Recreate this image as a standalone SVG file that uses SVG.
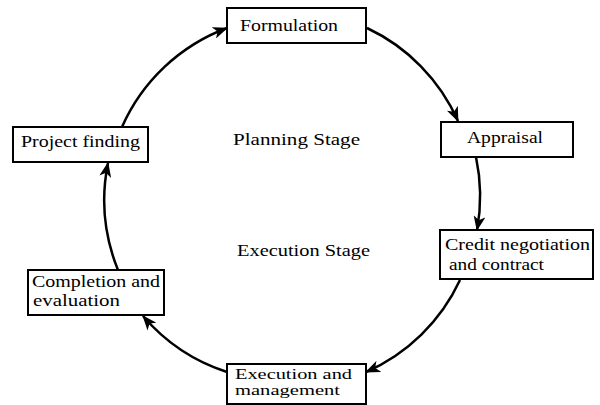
<svg xmlns="http://www.w3.org/2000/svg" width="600" height="405" viewBox="0 0 600 405">
<style>
.box{fill:#fff;stroke:#000;stroke-width:2}
.t{font-family:"Liberation Serif","Times New Roman",serif;font-size:17px;fill:#000}
.s{font-size:15px}
.c{fill:none;stroke:#000;stroke-width:2.5;marker-end:url(#ah)}
</style>
<defs>
<marker id="ah" markerUnits="userSpaceOnUse" markerWidth="16" markerHeight="12" refX="14" refY="6" orient="auto">
<path d="M0,0 L15,6 L0,12 L4,6 Z" fill="#000"/>
</marker>
</defs>
<rect width="600" height="405" fill="#fff"/>
<g id="connectors">
<path class="c" d="M367,28 A186,186 0 0 1 458,121"/>
<path class="c" d="M476,157 A186,186 0 0 1 477,230"/>
<path class="c" d="M460,280 A186,186 0 0 1 366,372"/>
<path class="c" d="M227,372 A186,186 0 0 1 143,316"/>
<path class="c" d="M118,270 A186,186 0 0 1 108,163"/>
<path class="c" d="M122,127 A186,186 0 0 1 227,28"/>
</g>
<g id="formulation">
<rect class="box" x="227" y="8" width="139" height="35"/>
<text class="t" x="240" y="31" textLength="98" lengthAdjust="spacingAndGlyphs">Formulation</text>
</g>
<g id="appraisal">
<rect class="box" x="441" y="122" width="132" height="35"/>
<text class="t" x="467" y="143" textLength="76" lengthAdjust="spacingAndGlyphs">Appraisal</text>
</g>
<g id="credit">
<rect class="box" x="440" y="230" width="153" height="49"/>
<text class="t" x="445" y="250" textLength="145" lengthAdjust="spacingAndGlyphs">Credit negotiation</text>
<text class="t" x="449" y="270" textLength="95" lengthAdjust="spacingAndGlyphs">and contract</text>
</g>
<g id="execution">
<rect class="box" x="227" y="364" width="139" height="40"/>
<text class="t s" x="235" y="379" textLength="117" lengthAdjust="spacingAndGlyphs">Execution and</text>
<text class="t s" x="235" y="395" textLength="105" lengthAdjust="spacingAndGlyphs">management</text>
</g>
<g id="completion">
<rect class="box" x="28" y="270" width="136" height="45"/>
<text class="t" x="32" y="287" textLength="128" lengthAdjust="spacingAndGlyphs">Completion and</text>
<text class="t" x="33" y="306" textLength="87" lengthAdjust="spacingAndGlyphs">evaluation</text>
</g>
<g id="project-finding">
<rect class="box" x="13" y="127" width="135" height="35"/>
<text class="t" x="21" y="147" textLength="119" lengthAdjust="spacingAndGlyphs">Project finding</text>
</g>
<g id="stages">
<text class="t" x="233" y="145" textLength="127" lengthAdjust="spacingAndGlyphs">Planning Stage</text>
<text class="t" x="237" y="256" textLength="133" lengthAdjust="spacingAndGlyphs">Execution Stage</text>
</g>
</svg>
